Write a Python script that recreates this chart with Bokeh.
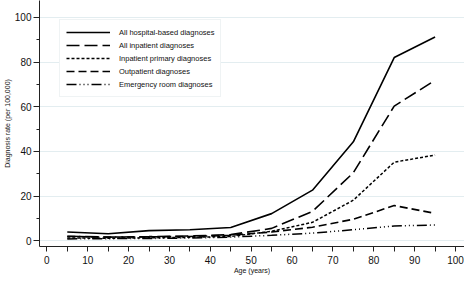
from bokeh.plotting import figure
from bokeh.models import Range1d, FixedTicker, Legend, LegendItem
from bokeh.embed import file_html
from bokeh.resources import INLINE

ages = [5, 15, 25, 35, 45, 55, 65, 75, 85, 95]
all_hospital = [4.0, 3.2, 4.6, 5.0, 6.0, 12.2, 22.7, 44.3, 82.0, 91.2]
all_inpatient = [2.1, 1.7, 1.9, 2.2, 2.8, 5.6, 13.2, 30.5, 60.3, 71.8]
inpatient_primary = [1.3, 1.2, 1.4, 1.6, 2.0, 4.3, 8.3, 18.2, 35.2, 38.4]
outpatient = [2.0, 1.7, 1.8, 2.0, 2.5, 4.0, 6.1, 9.7, 15.8, 12.3]
emergency = [0.9, 1.0, 1.1, 1.3, 1.7, 2.5, 3.5, 5.0, 6.7, 7.1]

series_names = ["All hospital-based diagnoses", "All inpatient diagnoses",
                "Inpatient primary diagnoses", "Outpatient diagnoses",
                "Emergency room diagnoses"]
x_ticks = [0, 10, 20, 30, 40, 50, 60, 70, 80, 90, 100]
y_ticks = [0, 20, 40, 60, 80, 100]
x_title = "Age (years)"
y_title = "Diagnosis rate (per 100,000)"

FONT = "Liberation Sans"

p = figure(width=464, height=276, output_backend="svg", toolbar_location=None,
           x_range=Range1d(-1.8, 102.2), y_range=Range1d(-2.5, 107.5),
           min_border_left=0, min_border_right=0, min_border_top=0, min_border_bottom=0)
p.outline_line_color = None
p.background_fill_color = "white"
p.border_fill_color = "white"

# grids
p.xgrid.grid_line_color = None
p.ygrid.ticker = FixedTicker(ticks=y_ticks)
p.ygrid.grid_line_color = "#e3edf0"
p.ygrid.grid_line_width = 1

# axes
p.xaxis.ticker = FixedTicker(ticks=x_ticks, minor_ticks=[5, 15, 25, 35, 45, 55, 65, 75, 85, 95])
p.yaxis.ticker = FixedTicker(ticks=y_ticks, minor_ticks=[10, 30, 50, 70, 90])
for ax in (p.xaxis[0], p.yaxis[0]):
    ax.axis_line_color = "#222222"
    ax.axis_line_width = 1
    ax.major_tick_line_color = "#222222"
    ax.minor_tick_line_color = "#222222"
    ax.major_tick_in = 0
    ax.minor_tick_in = 0
    ax.major_label_text_font = FONT
    ax.major_label_text_font_size = "10px"
    ax.major_label_text_color = "#111111"
    ax.axis_label_text_font = FONT
    ax.axis_label_text_font_size = "7px"
    ax.axis_label_text_font_style = "normal"
    ax.axis_label_text_color = "#111111"
    ax.major_label_standoff = 2
    ax.axis_label_standoff = 1

p.xaxis.major_label_standoff = 4
p.xaxis.axis_label_standoff = 0
p.xaxis.major_tick_out = 5
p.xaxis.minor_tick_out = 5
p.yaxis.major_tick_out = 6
p.yaxis.minor_tick_out = 3
p.xaxis.axis_label = x_title
p.yaxis.axis_label = y_title

styles = [("solid", 1.6), ("13 5", 1.6), ("3 2", 1.5), ("8 4", 1.6), ("10 3 1 3 1 3 1 3", 1.5)]
data = [all_hospital, all_inpatient, inpatient_primary, outpatient, emergency]

items = []
for name, ys, (dash, w) in zip(series_names, data, styles):
    r = p.line(ages, ys, line_color="black", line_width=w, line_dash=dash)
    items.append(LegendItem(label=name, renderers=[r]))

legend = Legend(items=items, location=(20, 149))
legend.label_text_font = FONT
legend.label_text_font_size = "7.5px"
legend.label_text_color = "#111111"
legend.glyph_width = 44
legend.glyph_height = 12
legend.label_height = 12
legend.spacing = 1
legend.padding = 6
legend.label_standoff = 9
legend.border_line_color = "#dfe8ea"
legend.border_line_width = 1
legend.background_fill_color = "white"
legend.background_fill_alpha = 1
p.add_layout(legend, "center")

open("out.html", "w").write(file_html(p, INLINE))
